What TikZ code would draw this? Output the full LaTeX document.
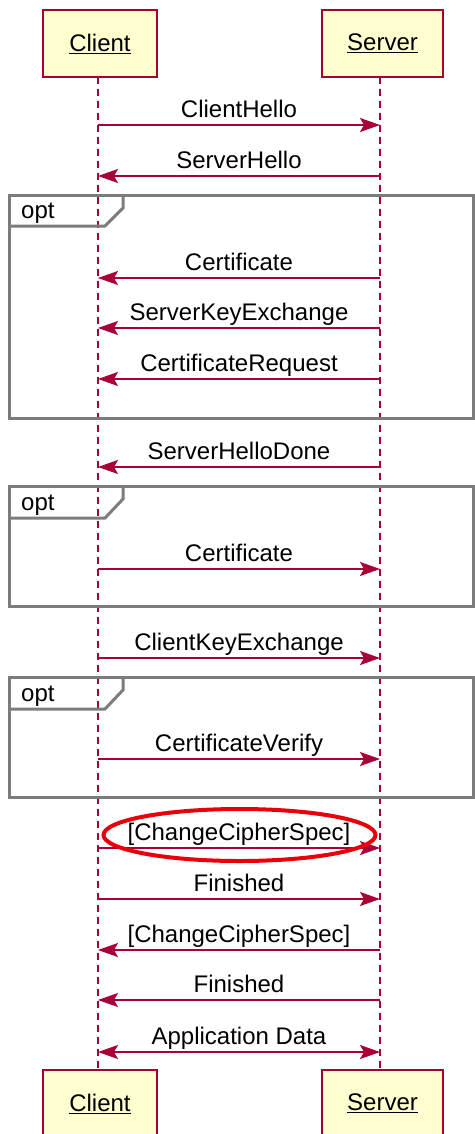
\documentclass[tikz,border=0pt]{standalone}
\usepackage{fontspec}
\setmainfont{Liberation Sans}
\usetikzlibrary{arrows.meta}
\definecolor{seqred}{HTML}{A80036}
\definecolor{seqfill}{HTML}{FEFECE}
\definecolor{framegray}{HTML}{7C7C7C}
\definecolor{markred}{HTML}{E8000A}
\tikzset{
  lbl/.style={font=\fontsize{24}{28}\selectfont, text=black, inner sep=0pt},
  actor/.style={draw=seqred, fill=seqfill, line width=1.5pt, inner sep=0pt, lbl},
  lifeline/.style={draw=seqred, line width=1.3pt, dash pattern=on 7pt off 5pt},
  msg/.style={draw=seqred, line width=1.3pt,
    -{Stealth[length=20pt, width=14pt, inset=4pt]}},
  bimsg/.style={draw=seqred, line width=1.3pt,
    {Stealth[length=20pt, width=14pt, inset=4pt]}-{Stealth[length=20pt, width=14pt, inset=4pt]}},
  msglabel/.style={lbl, anchor=base, yshift=7.5pt},
  optframe/.style={draw=framegray, line width=3pt},
  highlight/.style={draw=markred, line width=4pt}
}
\newcommand{\actorname}[1]{\underline{#1}}
\newcommand{\optbox}[4]{%
  % #1 name, #2 top, #3 tab bottom, #4 bottom
  \draw[optframe] (9,#2) rectangle (473,#4);
  \draw[optframe] (123,#2) -- (123,#2+13) -- (105,#3) -- (9,#3);
  \node[lbl, anchor=base west] (#1) at (21,#3-8) {opt};
}
\begin{document}
\begin{tikzpicture}[x=1pt, y=-1pt]
\useasboundingbox (0,0) rectangle (474,1134);

% participants
\node[actor, minimum width=114pt, minimum height=67pt] (clientTop) at (100,43.5) {\actorname{Client}};
\node[actor, minimum width=121pt, minimum height=67pt] (serverTop) at (382.5,43.5) {\actorname{Server}};
\node[actor, minimum width=114pt, minimum height=67pt] (clientBot) at (100,1103.5) {\raisebox{-4pt}{\actorname{Client}}};
\node[actor, minimum width=121pt, minimum height=67pt] (serverBot) at (382.5,1103.5) {\raisebox{-4pt}{\actorname{Server}}};

% lifelines
\coordinate (cTop) at (98,77);
\coordinate (cBot) at (98,1070);
\coordinate (sTop) at (380,77);
\coordinate (sBot) at (380,1070);
\draw[lifeline] (cTop) -- (cBot);
\draw[lifeline] (sTop) -- (sBot);

% combined fragments
\optbox{optA}{195}{226}{418}
\optbox{optB}{486}{518}{606}
\optbox{optC}{677}{709}{797}

% message anchor points on the lifelines
\foreach \i/\y in {1/125,2/176,3/278,4/328,5/379,6/467,7/569,8/658,9/759,10/848,11/899,12/950,13/1000,14/1052}{
  \coordinate (c\i) at (98,\y);
  \coordinate (s\i) at (380,\y);
}

% handshake messages
\draw[msg] (c1) -- node[msglabel] {ClientHello} (s1);
\draw[msg] (s2) -- node[msglabel] {ServerHello} (c2);
\draw[msg] (s3) -- node[msglabel] {Certificate} (c3);
\draw[msg] (s4) -- node[msglabel] {ServerKeyExchange} (c4);
\draw[msg] (s5) -- node[msglabel] {CertificateRequest} (c5);
\draw[msg] (s6) -- node[msglabel] {ServerHelloDone} (c6);
\draw[msg] (c7) -- node[msglabel] {Certificate} (s7);
\draw[msg] (c8) -- node[msglabel] {ClientKeyExchange} (s8);
\draw[msg] (c9) -- node[msglabel] {CertificateVerify} (s9);
\draw[msg] (c10) -- node[msglabel] (ccsClient) {[ChangeCipherSpec]} (s10);
\draw[msg] (c11) -- node[msglabel] {Finished} (s11);
\draw[msg] (s12) -- node[msglabel] {[ChangeCipherSpec]} (c12);
\draw[msg] (s13) -- node[msglabel] {Finished} (c13);
\draw[bimsg] (c14) -- node[msglabel] {Application Data} (s14);

% highlight around the client's ChangeCipherSpec
\draw[highlight] (239.5,835) ellipse [x radius=136pt, y radius=26pt];
\end{tikzpicture}
\end{document}
